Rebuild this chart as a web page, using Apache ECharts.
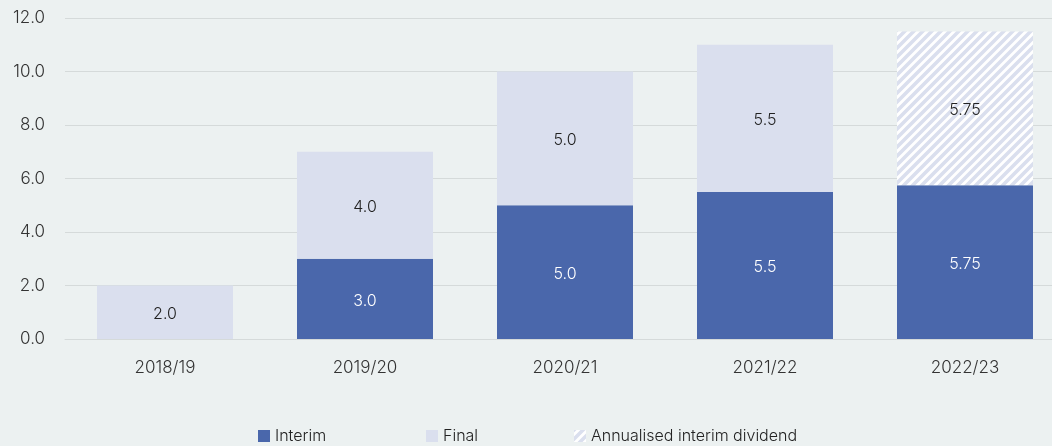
<!DOCTYPE html>
<html>
<head>
<meta charset="utf-8">
<style>
  html, body { margin: 0; padding: 0; background: #ECF1F1; overflow: hidden; width: 1052px; height: 446px; }
  /* plot area runs past the right edge of the page, as the last bar band is clipped */
  #chart { width: 1065px; height: 446px; }
</style>
<script src="https://cdn.jsdelivr.net/npm/echarts@6/dist/echarts.min.js"></script>
</head>
<body>
<div id="chart"></div>
<script>
// Dividend per share (pence) by financial year
const categories = ['2018/19', '2019/20', '2020/21', '2021/22', '2022/23'];
const interim = [0, 3.0, 5.0, 5.5, 5.75];
const finalDiv = [2.0, 4.0, 5.0, 5.5, null];
const annualised = [null, null, null, null, 5.75];
const interimLabels = ['', '3.0', '5.0', '5.5', '5.75'];
const finalLabels = ['2.0', '4.0', '5.0', '5.5', ''];
const annualisedLabels = ['', '', '', '', '5.75'];
const yTicks = [0, 2, 4, 6, 8, 10, 12];

const FONT = 'Inter, Roboto, sans-serif';
const BLUE = '#4A67AB';
const LAVENDER = '#DADFEE';

// diagonal hatch tile for the annualised interim segment
function hatchTile() {
  const s = 9;
  const c = document.createElement('canvas');
  c.width = s; c.height = s;
  const g = c.getContext('2d');
  g.fillStyle = '#ffffff';
  g.fillRect(0, 0, s, s);
  g.strokeStyle = LAVENDER;
  g.lineWidth = 3.6;
  g.beginPath();
  g.moveTo(-s, s); g.lineTo(s, -s);
  g.moveTo(0, 2 * s); g.lineTo(2 * s, 0);
  g.moveTo(0, s); g.lineTo(s, 0);
  g.stroke();
  return c;
}
const hatch = { image: hatchTile(), repeat: 'repeat' };

const chart = echarts.init(document.getElementById('chart'), null, { renderer: 'canvas' });

const labelFmt = (arr) => (p) => arr[p.dataIndex];
const barLabel = (color, arr) => ({
  show: true, position: 'inside', offset: [0, 2], color: color,
  fontFamily: FONT, fontWeight: 300, fontSize: 16, formatter: labelFmt(arr)
});

const legendBase = {
  bottom: 0,
  icon: 'rect',
  itemWidth: 12,
  itemHeight: 12,
  itemGap: 5,
  selectedMode: false,
  textStyle: { fontFamily: FONT, fontWeight: 300, fontSize: 16, color: '#222', padding: [0, 0, 0, 0] },
  padding: [0, 0, 2, 0]
};

chart.setOption({
  backgroundColor: '#ECF1F1',
  animation: false,
  grid: { left: 65, right: 0, top: 18, bottom: 107, containLabel: false },
  legend: [
    Object.assign({}, legendBase, { left: 258, data: ['Interim'] }),
    Object.assign({}, legendBase, { left: 426, data: ['Final'] }),
    Object.assign({}, legendBase, { left: 574, data: ['Annualised interim dividend'] })
  ],
  xAxis: {
    type: 'category',
    data: categories,
    axisLine: { show: true, lineStyle: { color: '#D5DADA', width: 1 } },
    axisTick: { show: false },
    axisLabel: { fontFamily: FONT, fontWeight: 300, fontSize: 17, color: '#333', margin: 20 }
  },
  yAxis: {
    type: 'value',
    min: yTicks[0],
    max: yTicks[yTicks.length - 1],
    interval: 2,
    axisLine: { show: false },
    axisTick: { show: false },
    splitLine: { lineStyle: { color: '#D5DADA', width: 1 } },
    axisLabel: {
      fontFamily: FONT, fontWeight: 300, fontSize: 17, color: '#333', margin: 20,
      formatter: (v) => v.toFixed(1)
    }
  },
  series: [
    {
      name: 'Interim', type: 'bar', stack: 'div', barWidth: 136,
      data: interim,
      itemStyle: { color: BLUE },
      label: barLabel('#ffffff', interimLabels)
    },
    {
      name: 'Final', type: 'bar', stack: 'div', barWidth: 136,
      data: finalDiv,
      itemStyle: { color: LAVENDER },
      label: barLabel('#222222', finalLabels)
    },
    {
      name: 'Annualised interim dividend', type: 'bar', stack: 'div', barWidth: 136,
      data: annualised,
      itemStyle: { color: hatch },
      label: barLabel('#222222', annualisedLabels)
    }
  ]
});
</script>
</body>
</html>
